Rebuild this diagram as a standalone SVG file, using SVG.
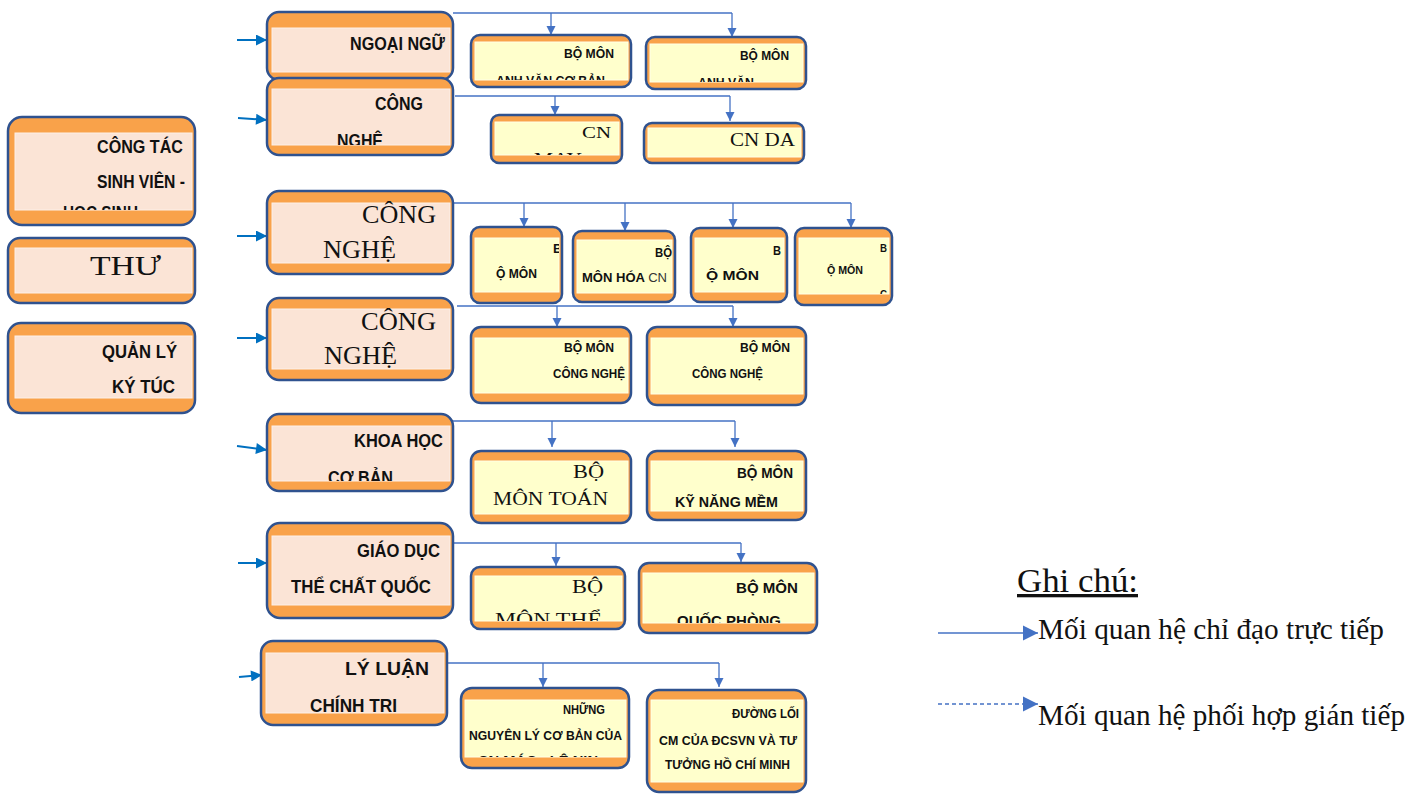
<svg xmlns="http://www.w3.org/2000/svg" width="1423" height="794" viewBox="0 0 1423 794">
<style>
.o{fill:#F9A24A;stroke:#2F528F;stroke-width:2.5}
.p{fill:#FBE4D6;stroke:#FDF0E8;stroke-width:1}
.y{fill:#FFFFCC;stroke:#FFFFE8;stroke-width:1}
.t{font-family:"Liberation Sans",Arial,sans-serif;font-weight:bold;fill:#111}
.s{font-family:"Liberation Serif","Times New Roman",serif;fill:#111}
.c{fill:none;stroke:#4472C4;stroke-width:1.3}
.i{fill:none;stroke:#0070C0;stroke-width:2}
</style>
<defs>
<marker id="ah" viewBox="0 0 10 10" refX="10" refY="5" markerWidth="9" markerHeight="12" markerUnits="userSpaceOnUse" orient="auto"><path d="M0,0L10,5L0,10z" fill="#4472C4"/></marker>
<marker id="ai" viewBox="0 0 10 10" refX="10" refY="5" markerWidth="12" markerHeight="11" markerUnits="userSpaceOnUse" orient="auto"><path d="M0,0L10,5L0,10z" fill="#0070C0"/></marker>
<marker id="al" viewBox="0 0 10 10" refX="10" refY="5" markerWidth="15" markerHeight="17" markerUnits="userSpaceOnUse" orient="auto"><path d="M0,0L10,5L0,10z" fill="#4472C4"/></marker>
<clipPath id="kL1"><rect x="15" y="133" width="177" height="77"/></clipPath>
<clipPath id="kA1"><rect x="475" y="42" width="153" height="38"/></clipPath>
<clipPath id="kA2"><rect x="650" y="44" width="153" height="38"/></clipPath>
<clipPath id="kB"><rect x="272" y="89" width="178" height="56"/></clipPath>
<clipPath id="kB1"><rect x="495" y="122" width="124" height="33"/></clipPath>
<clipPath id="kC1"><rect x="475" y="238" width="84" height="54"/></clipPath>
<clipPath id="kC4"><rect x="799" y="238" width="90" height="56"/></clipPath>
<clipPath id="kE"><rect x="272" y="426" width="178" height="55"/></clipPath>
<clipPath id="kF1"><rect x="475" y="576" width="147" height="45"/></clipPath>
<clipPath id="kF2"><rect x="643" y="573" width="171" height="50"/></clipPath>
<clipPath id="kG"><rect x="266" y="653" width="178" height="60"/></clipPath>
<clipPath id="kG1"><rect x="465" y="700" width="161" height="57"/></clipPath>
</defs>

<g id="connectors">
<path class="i" d="M237,40H267" marker-end="url(#ai)"/>
<path class="i" d="M238,118L267,120" marker-end="url(#ai)"/>
<path class="i" d="M237,236H267" marker-end="url(#ai)"/>
<path class="i" d="M237,338H267" marker-end="url(#ai)"/>
<path class="i" d="M237,446L267,450" marker-end="url(#ai)"/>
<path class="i" d="M238,563H267" marker-end="url(#ai)"/>
<path class="i" d="M239,677L262,675" marker-end="url(#ai)"/>
<path class="c" d="M453,13H732"/>
<path class="c" d="M551,13V35" marker-end="url(#ah)"/>
<path class="c" d="M732,13V37" marker-end="url(#ah)"/>
<path class="c" d="M455,96H730"/>
<path class="c" d="M555,96V115" marker-end="url(#ah)"/>
<path class="c" d="M730,96V121" marker-end="url(#ah)"/>
<path class="c" d="M453,203H851"/>
<path class="c" d="M524,203V227" marker-end="url(#ah)"/>
<path class="c" d="M625,203V231" marker-end="url(#ah)"/>
<path class="c" d="M733,203V228" marker-end="url(#ah)"/>
<path class="c" d="M851,203V228" marker-end="url(#ah)"/>
<path class="c" d="M457,306H733"/>
<path class="c" d="M557,306V327" marker-end="url(#ah)"/>
<path class="c" d="M733,306V327" marker-end="url(#ah)"/>
<path class="c" d="M447,421H735"/>
<path class="c" d="M552,421V447" marker-end="url(#ah)"/>
<path class="c" d="M735,421V447" marker-end="url(#ah)"/>
<path class="c" d="M452,543H741"/>
<path class="c" d="M556,543V566" marker-end="url(#ah)"/>
<path class="c" d="M741,543V562" marker-end="url(#ah)"/>
<path class="c" d="M443,663H719"/>
<path class="c" d="M543,663V687" marker-end="url(#ah)"/>
<path class="c" d="M719,663V687" marker-end="url(#ah)"/>
</g>

<g id="L1"><rect class="o" x="8" y="117" width="187" height="108" rx="14"/><rect class="p" x="15" y="133" width="177" height="77"/>
<g clip-path="url(#kL1)"><text class="t" x="97" y="153" font-size="18" textLength="86" lengthAdjust="spacingAndGlyphs">CÔNG TÁC</text><text class="t" x="97" y="188" font-size="18" textLength="88" lengthAdjust="spacingAndGlyphs">SINH VIÊN -</text><text class="t" x="63" y="219" font-size="18" textLength="75" lengthAdjust="spacingAndGlyphs">HỌC SINH</text></g></g>
<g id="L2"><rect class="o" x="8" y="238" width="187" height="65" rx="12"/><rect class="p" x="15" y="248" width="177" height="45"/>
<text class="s" x="90" y="275" font-size="27" textLength="71" lengthAdjust="spacingAndGlyphs">THƯ</text></g>
<g id="L3"><rect class="o" x="8" y="323" width="187" height="90" rx="13"/><rect class="p" x="15" y="336" width="177" height="62"/>
<text class="t" x="102" y="358" font-size="18" textLength="75" lengthAdjust="spacingAndGlyphs">QUẢN LÝ</text><text class="t" x="112" y="393" font-size="18" textLength="63" lengthAdjust="spacingAndGlyphs">KÝ TÚC</text></g>

<g id="A"><rect class="o" x="267" y="12" width="186" height="68" rx="12"/><rect class="p" x="272" y="28" width="178" height="44"/>
<text class="t" x="350" y="50" font-size="19" textLength="95" lengthAdjust="spacingAndGlyphs">NGOẠI NGỮ</text></g>
<g id="B"><rect class="o" x="267" y="78" width="186" height="77" rx="12"/><rect class="p" x="272" y="89" width="178" height="56"/>
<g clip-path="url(#kB)"><text class="t" x="375" y="110" font-size="19" textLength="48" lengthAdjust="spacingAndGlyphs">CÔNG</text><text class="t" x="337" y="147" font-size="19" textLength="46" lengthAdjust="spacingAndGlyphs">NGHỆ</text></g></g>
<g id="C"><rect class="o" x="267" y="191" width="186" height="83" rx="12"/><rect class="p" x="272" y="203" width="178" height="60"/>
<text class="s" x="362" y="223" font-size="25" textLength="74" lengthAdjust="spacingAndGlyphs">CÔNG</text><text class="s" x="323" y="258" font-size="25" textLength="73" lengthAdjust="spacingAndGlyphs">NGHỆ</text></g>
<g id="D"><rect class="o" x="267" y="298" width="186" height="82" rx="12"/><rect class="p" x="272" y="309" width="178" height="60"/>
<text class="s" x="361" y="330" font-size="25" textLength="75" lengthAdjust="spacingAndGlyphs">CÔNG</text><text class="s" x="324" y="364" font-size="25" textLength="73" lengthAdjust="spacingAndGlyphs">NGHỆ</text></g>
<g id="E"><rect class="o" x="267" y="414" width="186" height="77" rx="12"/><rect class="p" x="272" y="426" width="178" height="55"/>
<g clip-path="url(#kE)"><text class="t" x="354" y="447" font-size="19" textLength="89" lengthAdjust="spacingAndGlyphs">KHOA HỌC</text><text class="t" x="328" y="484" font-size="19" textLength="65" lengthAdjust="spacingAndGlyphs">CƠ BẢN</text></g></g>
<g id="F"><rect class="o" x="267" y="523" width="186" height="95" rx="13"/><rect class="p" x="272" y="536" width="178" height="69"/>
<text class="t" x="357" y="557" font-size="19" textLength="83" lengthAdjust="spacingAndGlyphs">GIÁO DỤC</text><text class="t" x="291" y="593" font-size="19" textLength="140" lengthAdjust="spacingAndGlyphs">THỂ CHẤT QUỐC</text></g>
<g id="G"><rect class="o" x="261" y="641" width="186" height="84" rx="12"/><rect class="p" x="266" y="653" width="178" height="60"/>
<g clip-path="url(#kG)"><text class="t" x="345" y="675" font-size="19" textLength="84" lengthAdjust="spacingAndGlyphs">LÝ LUẬN</text><text class="t" x="310" y="712" font-size="19" textLength="87" lengthAdjust="spacingAndGlyphs">CHÍNH TRI</text></g></g>

<g id="A1"><rect class="o" x="471" y="35" width="160" height="52" rx="9"/><rect class="y" x="475" y="42" width="153" height="38"/>
<g clip-path="url(#kA1)"><text class="t" x="564" y="58" font-size="13" textLength="50" lengthAdjust="spacingAndGlyphs">BỘ MÔN</text><text class="t" x="496" y="85" font-size="13" textLength="109" lengthAdjust="spacingAndGlyphs">ANH VĂN CƠ BẢN</text></g></g>
<g id="A2"><rect class="o" x="646" y="37" width="160" height="52" rx="9"/><rect class="y" x="650" y="44" width="153" height="38"/>
<g clip-path="url(#kA2)"><text class="t" x="740" y="60" font-size="13" textLength="49" lengthAdjust="spacingAndGlyphs">BỘ MÔN</text><text class="t" x="698" y="87" font-size="13" textLength="56" lengthAdjust="spacingAndGlyphs">ANH VĂN</text></g></g>
<g id="B1"><rect class="o" x="491" y="115" width="131" height="48" rx="8"/><rect class="y" x="495" y="122" width="124" height="33"/>
<g clip-path="url(#kB1)"><text class="s" x="582" y="138" font-size="17" textLength="29" lengthAdjust="spacingAndGlyphs">CN</text><text class="s" x="534" y="164" font-size="17" textLength="48" lengthAdjust="spacingAndGlyphs">MAY</text></g></g>
<g id="B2"><rect class="o" x="644" y="123" width="160" height="40" rx="8"/><rect class="y" x="648" y="128" width="153" height="29"/>
<text class="s" x="730" y="146" font-size="18" textLength="65" lengthAdjust="spacingAndGlyphs">CN DA</text></g>

<g id="C1"><rect class="o" x="471" y="227" width="91" height="76" rx="9"/><rect class="y" x="475" y="238" width="84" height="54"/>
<g clip-path="url(#kC1)"><text class="t" x="553" y="253" font-size="13">B</text><text class="t" x="496" y="278" font-size="13" textLength="41" lengthAdjust="spacingAndGlyphs">Ộ MÔN</text></g></g>
<g id="C2"><rect class="o" x="573" y="231" width="102" height="71" rx="9"/><rect class="y" x="577" y="240" width="95" height="53"/>
<text class="t" x="655" y="257" font-size="13" textLength="17" lengthAdjust="spacingAndGlyphs">BỘ</text><text class="t" x="582" y="282" font-size="13" textLength="85" lengthAdjust="spacingAndGlyphs">MÔN HÓA <tspan font-weight="normal" fill="#333">CN</tspan></text></g>
<g id="C3"><rect class="o" x="691" y="228" width="96" height="74" rx="9"/><rect class="y" x="695" y="238" width="89" height="54"/>
<text class="t" x="773" y="255" font-size="13" textLength="8" lengthAdjust="spacingAndGlyphs">B</text><text class="t" x="706" y="280" font-size="13" textLength="53" lengthAdjust="spacingAndGlyphs">Ộ MÔN</text></g>
<g id="C4"><rect class="o" x="795" y="228" width="97" height="77" rx="9"/><rect class="y" x="799" y="238" width="90" height="56"/>
<g clip-path="url(#kC4)"><text class="t" x="880" y="252" font-size="11" textLength="7" lengthAdjust="spacingAndGlyphs">B</text><text class="t" x="827" y="274" font-size="11" textLength="36" lengthAdjust="spacingAndGlyphs">Ộ MÔN</text><text class="t" x="880" y="298" font-size="11" textLength="7" lengthAdjust="spacingAndGlyphs">C</text></g></g>

<g id="D1"><rect class="o" x="471" y="327" width="160" height="76" rx="10"/><rect class="y" x="475" y="338" width="153" height="55"/>
<text class="t" x="564" y="352" font-size="13" textLength="50" lengthAdjust="spacingAndGlyphs">BỘ MÔN</text><text class="t" x="553" y="378" font-size="13" textLength="72" lengthAdjust="spacingAndGlyphs">CÔNG NGHỆ</text></g>
<g id="D2"><rect class="o" x="647" y="327" width="159" height="78" rx="10"/><rect class="y" x="651" y="338" width="152" height="56"/>
<text class="t" x="740" y="352" font-size="13" textLength="50" lengthAdjust="spacingAndGlyphs">BỘ MÔN</text><text class="t" x="692" y="378" font-size="13" textLength="71" lengthAdjust="spacingAndGlyphs">CÔNG NGHỆ</text></g>

<g id="E1"><rect class="o" x="471" y="451" width="160" height="72" rx="10"/><rect class="y" x="475" y="461" width="153" height="53"/>
<text class="s" x="573" y="478" font-size="19" textLength="31" lengthAdjust="spacingAndGlyphs">BỘ</text><text class="s" x="493" y="505" font-size="19" textLength="115" lengthAdjust="spacingAndGlyphs">MÔN TOÁN</text></g>
<g id="E2"><rect class="o" x="647" y="451" width="159" height="69" rx="10"/><rect class="y" x="651" y="461" width="152" height="50"/>
<text class="t" x="737" y="478" font-size="14" textLength="56" lengthAdjust="spacingAndGlyphs">BỘ MÔN</text><text class="t" x="675" y="507" font-size="14" textLength="103" lengthAdjust="spacingAndGlyphs">KỸ NĂNG MỀM</text></g>

<g id="F1"><rect class="o" x="471" y="567" width="154" height="62" rx="9"/><rect class="y" x="475" y="576" width="147" height="45"/>
<g clip-path="url(#kF1)"><text class="s" x="572" y="593" font-size="19" textLength="31" lengthAdjust="spacingAndGlyphs">BỘ</text><text class="s" x="495" y="626" font-size="19" textLength="107" lengthAdjust="spacingAndGlyphs">MÔN THỂ</text></g></g>
<g id="F2"><rect class="o" x="639" y="563" width="178" height="70" rx="10"/><rect class="y" x="643" y="573" width="171" height="50"/>
<g clip-path="url(#kF2)"><text class="t" x="736" y="593" font-size="15" textLength="62" lengthAdjust="spacingAndGlyphs">BỘ MÔN</text><text class="t" x="677" y="626" font-size="15" textLength="104" lengthAdjust="spacingAndGlyphs">QUỐC PHÒNG</text></g></g>

<g id="G1"><rect class="o" x="461" y="688" width="168" height="80" rx="11"/><rect class="y" x="465" y="700" width="161" height="57"/>
<g clip-path="url(#kG1)"><text class="t" x="563" y="714" font-size="12" textLength="42" lengthAdjust="spacingAndGlyphs">NHỮNG</text><text class="t" x="469" y="740" font-size="12" textLength="153" lengthAdjust="spacingAndGlyphs">NGUYÊN LÝ CƠ BẢN CỦA</text><text class="t" x="478" y="765" font-size="12" textLength="120" lengthAdjust="spacingAndGlyphs">CN MÁC - LÊ NIN</text></g></g>
<g id="G2"><rect class="o" x="647" y="690" width="159" height="102" rx="12"/><rect class="y" x="651" y="700" width="152" height="82"/>
<text class="t" x="732" y="718" font-size="12" textLength="67" lengthAdjust="spacingAndGlyphs">ĐƯỜNG LỐI</text><text class="t" x="659" y="745" font-size="12" textLength="138" lengthAdjust="spacingAndGlyphs">CM CỦA ĐCSVN VÀ TƯ</text><text class="t" x="665" y="769" font-size="12" textLength="125" lengthAdjust="spacingAndGlyphs">TƯỞNG HỒ CHÍ MINH</text></g>

<g id="legend">
<text class="s" x="1017" y="592" font-size="33" textLength="121" lengthAdjust="spacingAndGlyphs" text-decoration="underline">Ghi chú:</text>
<path class="c" d="M938,633H1038" marker-end="url(#al)"/>
<text class="s" x="1038" y="639" font-size="29" textLength="346" lengthAdjust="spacingAndGlyphs">Mối quan hệ chỉ đạo trực tiếp</text>
<path class="c" d="M938,704H1038" stroke-dasharray="4,3" marker-end="url(#al)"/>
<text class="s" x="1038" y="725" font-size="29" textLength="367" lengthAdjust="spacingAndGlyphs">Mối quan hệ phối hợp gián tiếp</text>
</g>
</svg>
